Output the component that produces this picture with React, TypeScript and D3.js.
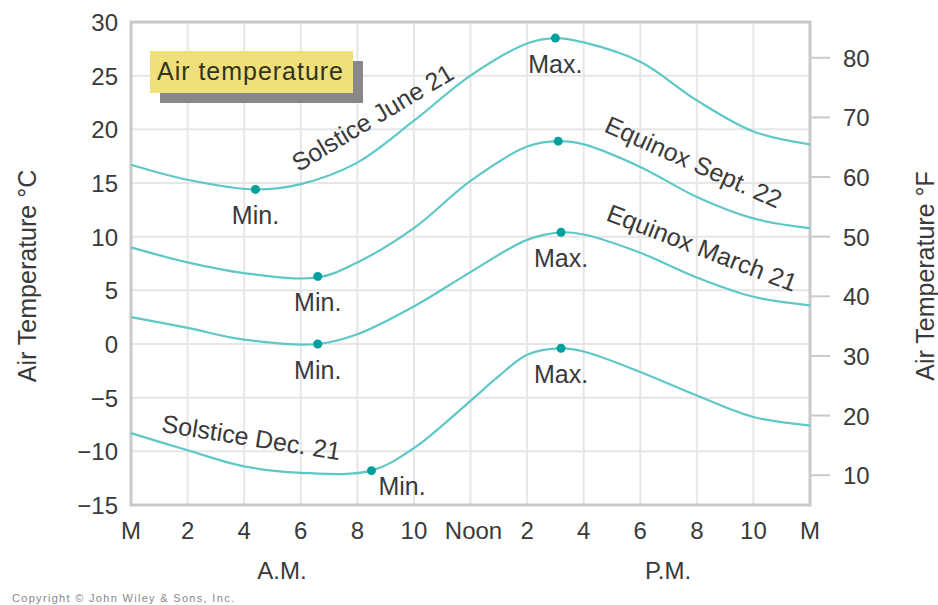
import * as d3 from "d3";

// hours from midnight (0) to midnight (24), per curve, including the marked min/max
const juneHours = [0, 2, 4.4, 6, 8, 10, 12, 14, 15.0, 16, 18, 20, 22, 24];
const juneTemps = [16.7, 15.3, 14.4, 14.9, 16.9, 20.8, 25.0, 28.0, 28.5, 28.1, 26.3, 22.7, 19.8, 18.6];

const septHours = [0, 2, 4, 6.6, 8, 10, 12, 14, 15.1, 16, 18, 20, 22, 24];
const septTemps = [9.0, 7.6, 6.6, 6.2, 7.6, 10.8, 15.2, 18.4, 18.9, 18.6, 16.5, 13.7, 11.7, 10.8];

const marchHours = [0, 2, 4, 6.6, 8, 10, 12, 14, 15.2, 16, 18, 20, 22, 24];
const marchTemps = [2.5, 1.5, 0.4, 0.0, 0.9, 3.5, 6.7, 9.7, 10.4, 10.2, 8.5, 6.2, 4.4, 3.6];

const decHours = [0, 2, 4, 6, 8.5, 10, 11, 12, 13, 14, 15.2, 16, 18, 20, 22, 24];
const decTemps = [-8.3, -9.9, -11.4, -12.0, -11.8, -9.7, -7.6, -5.3, -3.0, -1.0, -0.4, -0.7, -2.6, -4.8, -6.8, -7.6];

// marked minimum / maximum points: [hour, temp, label]
const extremes: [number, number, string][] = [
  [4.4, 14.4, "Min."],
  [15.0, 28.5, "Max."],
  [6.6, 6.3, "Min."],
  [15.1, 18.9, ""],
  [6.6, 0.0, "Min."],
  [15.2, 10.4, "Max."],
  [8.5, -11.8, "Min."],
  [15.2, -0.4, "Max."],
];

const tickHours = [0, 2, 4, 6, 8, 10, 12, 14, 16, 18, 20, 22, 24];
const xTickLabels = ["M", "2", "4", "6", "8", "10", "Noon", "2", "4", "6", "8", "10", "M"];
const celsiusTicks = [-15, -10, -5, 0, 5, 10, 15, 20, 25, 30];
const fahrenheitTicks = [10, 20, 30, 40, 50, 60, 70, 80];

const font = "'Liberation Sans', Arial, sans-serif";
const textColor = "#3a3a3a";
const lineColor = "#5ec7c7";
const dotColor = "#00a09f";

export default function App() {
  const width = 938;
  const height = 605;
  const left = 131;
  const right = 810;
  const top = 22;
  const bottom = 505;

  const x = d3.scaleLinear().domain([0, 24]).range([left, right]);
  const y = d3.scaleLinear().domain([-15, 30]).range([bottom, top]);
  const yF = d3.scaleLinear().domain([-15 * 9 / 5 + 32, 30 * 9 / 5 + 32]).range([bottom, top]);

  const series: [number[], number[]][] = [
    [juneHours, juneTemps],
    [septHours, septTemps],
    [marchHours, marchTemps],
    [decHours, decTemps],
  ];

  const makePath = (hs: number[], ts: number[]) =>
    d3
      .line<number>()
      .x((_, i) => x(hs[i]))
      .y((d) => y(d))
      .curve(d3.curveCatmullRom.alpha(0.5))(ts) ?? "";

  const labelPos = (h: number, t: number, i: number) => {
    if (i === 6) return { x: x(h) + 7, y: y(t) + 24, anchor: "start" };
    return { x: x(h), y: y(t) + 35, anchor: "middle" };
  };

  return (
    <svg width={width} height={height} style={{ position: "absolute", left: 0, top: 0, background: "#fff" }}>
      {/* grid */}
      <g stroke="#e6e6e6" strokeWidth={2}>
        {tickHours.map((h) => (
          <line key={"v" + h} x1={x(h)} x2={x(h)} y1={top} y2={bottom} />
        ))}
        {celsiusTicks.map((t) => (
          <line key={"h" + t} x1={left} x2={right} y1={y(t)} y2={y(t)} />
        ))}
      </g>
      {/* frame */}
      <rect x={left} y={top} width={right - left} height={bottom - top} fill="none" stroke="#c9c9c9" strokeWidth={3} />

      {/* left axis labels */}
      <g fontFamily={font} fontSize={24} fill={textColor} textAnchor="end">
        {celsiusTicks.map((t) => (
          <text key={t} x={118} y={y(t) + 9}>
            {t < 0 ? "\u2212" + Math.abs(t) : t}
          </text>
        ))}
      </g>
      {/* right axis */}
      <g>
        {fahrenheitTicks.map((t) => (
          <g key={t}>
            <line x1={right} x2={830} y1={yF(t)} y2={yF(t)} stroke="#c9c9c9" strokeWidth={2} />
            <text x={843} y={yF(t) + 9} fontFamily={font} fontSize={24} fill={textColor}>
              {t}
            </text>
          </g>
        ))}
      </g>
      {/* bottom axis labels */}
      <g fontFamily={font} fontSize={24} fill={textColor} textAnchor="middle">
        {xTickLabels.map((l, i) => (
          <text key={i} x={x(tickHours[i]) + (l === "Noon" ? 3 : 0)} y={539}>
            {l}
          </text>
        ))}
        <text x={282} y={579}>A.M.</text>
        <text x={668} y={579}>P.M.</text>
      </g>

      {/* axis titles */}
      <text transform="translate(36,276) rotate(-90)" textAnchor="middle" fontFamily={font} fontSize={25} fill={textColor}>
        Air Temperature °C
      </text>
      <text transform="translate(934,276) rotate(-90)" textAnchor="middle" fontFamily={font} fontSize={25} fill={textColor}>
        Air Temperature °F
      </text>

      {/* curves */}
      {series.map(([hs, ts], i) => (
        <path key={i} d={makePath(hs, ts)} fill="none" stroke={lineColor} strokeWidth={2.2} />
      ))}

      {/* extremes */}
      {extremes.map(([h, t, label], i) => {
        const p = labelPos(h, t, i);
        return (
          <g key={i}>
            <circle cx={x(h)} cy={y(t)} r={4.5} fill={dotColor} />
            {label && (
              <text x={p.x} y={p.y} textAnchor={p.anchor} fontFamily={font} fontSize={25} fill={textColor}>
                {label}
              </text>
            )}
          </g>
        );
      })}

      {/* curve labels */}
      <g fontFamily={font} fontSize={25} fill={textColor} textAnchor="middle">
        <text transform="translate(377,125) rotate(-31)">Solstice June 21</text>
        <text transform="translate(690,170) rotate(24)">Equinox Sept. 22</text>
        <text transform="translate(699,256) rotate(21)">Equinox March 21</text>
        <text transform="translate(250,446) rotate(9)">Solstice Dec. 21</text>
      </g>

      {/* title box */}
      <rect x={160} y={61} width={203} height={42} fill="#888" />
      <rect x={150} y={51} width={203} height={42} fill="#efe07c" />
      <text x={157} y={80} fontFamily={font} fontSize={25} fill="#33331a" textLength={186}>
        Air temperature
      </text>

      {/* copyright */}
      <text x={12} y={602} fontFamily={font} fontSize={11} fill="#888" textLength={222}>
        Copyright © John Wiley &amp; Sons, Inc.
      </text>
    </svg>
  );
}
